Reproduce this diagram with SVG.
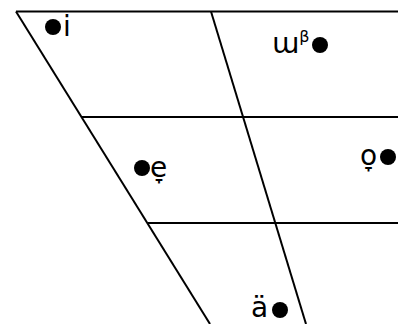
<svg xmlns="http://www.w3.org/2000/svg" width="398" height="324" viewBox="0 0 398 324">
<style>
.ln{stroke:#000;stroke-width:2;fill:none}
.t{font-family:"DejaVu Sans",sans-serif;font-size:28px;fill:#000}
.s{font-size:16px}
.d{fill:#000}
</style>
<rect width="398" height="324" fill="#fff"/>
<g id="connectors">
<line class="ln" x1="16" y1="11.5" x2="398" y2="11.5"/>
<line class="ln" x1="82" y1="117" x2="398" y2="117"/>
<line class="ln" x1="148" y1="223" x2="398" y2="223"/>
<line class="ln" x1="16" y1="11.5" x2="210" y2="324"/>
<line class="ln" x1="211" y1="11.5" x2="306" y2="324"/>
</g>
<g id="node-i"><circle class="d" cx="53" cy="27" r="8"/><text class="t" x="63" y="36">i</text></g>
<g id="node-w"><text class="t" x="272" y="53">ɯ<tspan class="s" dy="-11">β</tspan></text><circle class="d" cx="320" cy="45" r="8"/></g>
<g id="node-e"><circle class="d" cx="142" cy="168" r="8"/><text class="t" x="150" y="177">e̞</text></g>
<g id="node-o"><text class="t" x="360" y="165">o̞</text><circle class="d" cx="388" cy="157" r="8"/></g>
<g id="node-a"><text class="t" x="251" y="317">ä</text><circle class="d" cx="280" cy="310" r="8"/></g>
</svg>
